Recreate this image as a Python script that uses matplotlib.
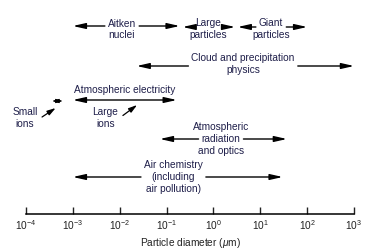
import matplotlib
matplotlib.use("Agg")
import matplotlib.pyplot as plt

plt.rcParams['font.family'] = ['Liberation Sans', 'DejaVu Sans']
plt.rcParams['mathtext.fontset'] = 'custom'
plt.rcParams['mathtext.rm'] = 'Liberation Sans'
plt.rcParams['mathtext.it'] = 'Liberation Sans:italic'
plt.rcParams['mathtext.default'] = 'regular'

# size ranges (particle diameter, um)
labels = ["Aitken\nnuclei", "Large\nparticles", "Giant\nparticles",
          "Cloud and precipitation\nphysics", "Atmospheric\nradiation\nand optics",
          "Air chemistry\n(including\nair pollution)"]
lo = [1e-3, 0.22, 3.3, 0.023, 0.072, 1e-3]
hi = [0.19, 2.9, 100, 1000, 37, 30]
centre = [0.0112, 0.785, 17, 4.3, 1.45, 0.14]

elec_lo, elec_hi = 1e-3, 0.165
small_lo, small_hi = 3.6e-4, 6.1e-4

# layout: arrow row, first text line, which line breaks the arrow
row_y = [26, 27, 27, 66, 139, 177]
text_y = [23.5, 23, 23, 58, 127, 165]
gap_line = [0, 0, 0, 0, 1, 0]
line_step = 11.8

txt_col = '#1f1f4a'
fs = 7.3

fig = plt.figure(figsize=(3.81, 2.49), dpi=100)
ax = fig.add_axes([26/381, 35/249, 328/381, 214/249])
ax.set_xscale('log')
ax.set_xlim(1e-4, 1e3)
ax.set_ylim(214, 0)
for s in ['top', 'left', 'right']:
    ax.spines[s].set_visible(False)
ax.spines['bottom'].set_linewidth(1.1)
ax.set_yticks([])
ax.set_xticks([10.0**k for k in range(-4, 4)])
ax.xaxis.set_minor_locator(matplotlib.ticker.NullLocator())
ax.tick_params(axis='x', direction='in', length=5.2, width=1.0, pad=3,
               labelsize=fs, colors='#222222')
ax.set_xlabel('Particle diameter ($\\mathit{\\mu}$m)', fontsize=fs, labelpad=3,
              color='#222222')

def arrow(x0, x1, y, hl=0.75, hw=0.17, style='-|>', lw=1.0):
    ax.annotate('', xy=(x1, y), xytext=(x0, y),
                arrowprops=dict(arrowstyle='%s,head_length=%s,head_width=%s' % (style, hl, hw),
                                lw=lw, color='k', shrinkA=0, shrinkB=0,
                                mutation_scale=10), annotation_clip=False)

gap_texts = []
for i, lab in enumerate(labels):
    lines = lab.split('\n')
    g = None
    for j, ln in enumerate(lines):
        t = ax.text(centre[i], text_y[i] + j*line_step, ln, ha='center', va='center',
                    fontsize=fs, color=txt_col)
        if j == gap_line[i]:
            g = t
    gap_texts.append(g)

fig.canvas.draw()
r = fig.canvas.get_renderer()
inv = ax.transData.inverted()
for i in range(len(labels)):
    bb = gap_texts[i].get_window_extent(r)
    yd = ax.transData.transform((1, row_y[i]))[1]
    gl = inv.transform((bb.x0 - 3, yd))[0]
    gr = inv.transform((bb.x1 + 3, yd))[0]
    arrow(gl, lo[i], row_y[i])
    arrow(gr, hi[i], row_y[i])

# atmospheric electricity
ax.text(0.0129, 90, 'Atmospheric electricity', ha='center', va='center',
        fontsize=fs, color=txt_col)
arrow(elec_lo, elec_hi, 100, style='<|-|>')
arrow(small_lo, small_hi, 101, hl=0.4, hw=0.12, style='<|-|>', lw=0.7)

# small / large ions pointers
ax.text(9.5e-5, 112, 'Small', ha='center', va='center', fontsize=fs, color=txt_col)
ax.text(9.5e-5, 123.5, 'ions', ha='center', va='center', fontsize=fs, color=txt_col)
ax.text(4.9e-3, 112, 'Large', ha='center', va='center', fontsize=fs, color=txt_col)
ax.text(4.9e-3, 123.5, 'ions', ha='center', va='center', fontsize=fs, color=txt_col)
for tail, tip in [((2.2e-4, 117), (4.3e-4, 108)), ((0.0117, 115.5), (0.0235, 105))]:
    ax.annotate('', xy=tip, xytext=tail,
                arrowprops=dict(arrowstyle='-|>,head_length=0.5,head_width=0.15',
                                lw=0.9, color='k', shrinkA=0, shrinkB=0,
                                mutation_scale=10), annotation_clip=False)

fig.savefig('out.png', dpi=100)
